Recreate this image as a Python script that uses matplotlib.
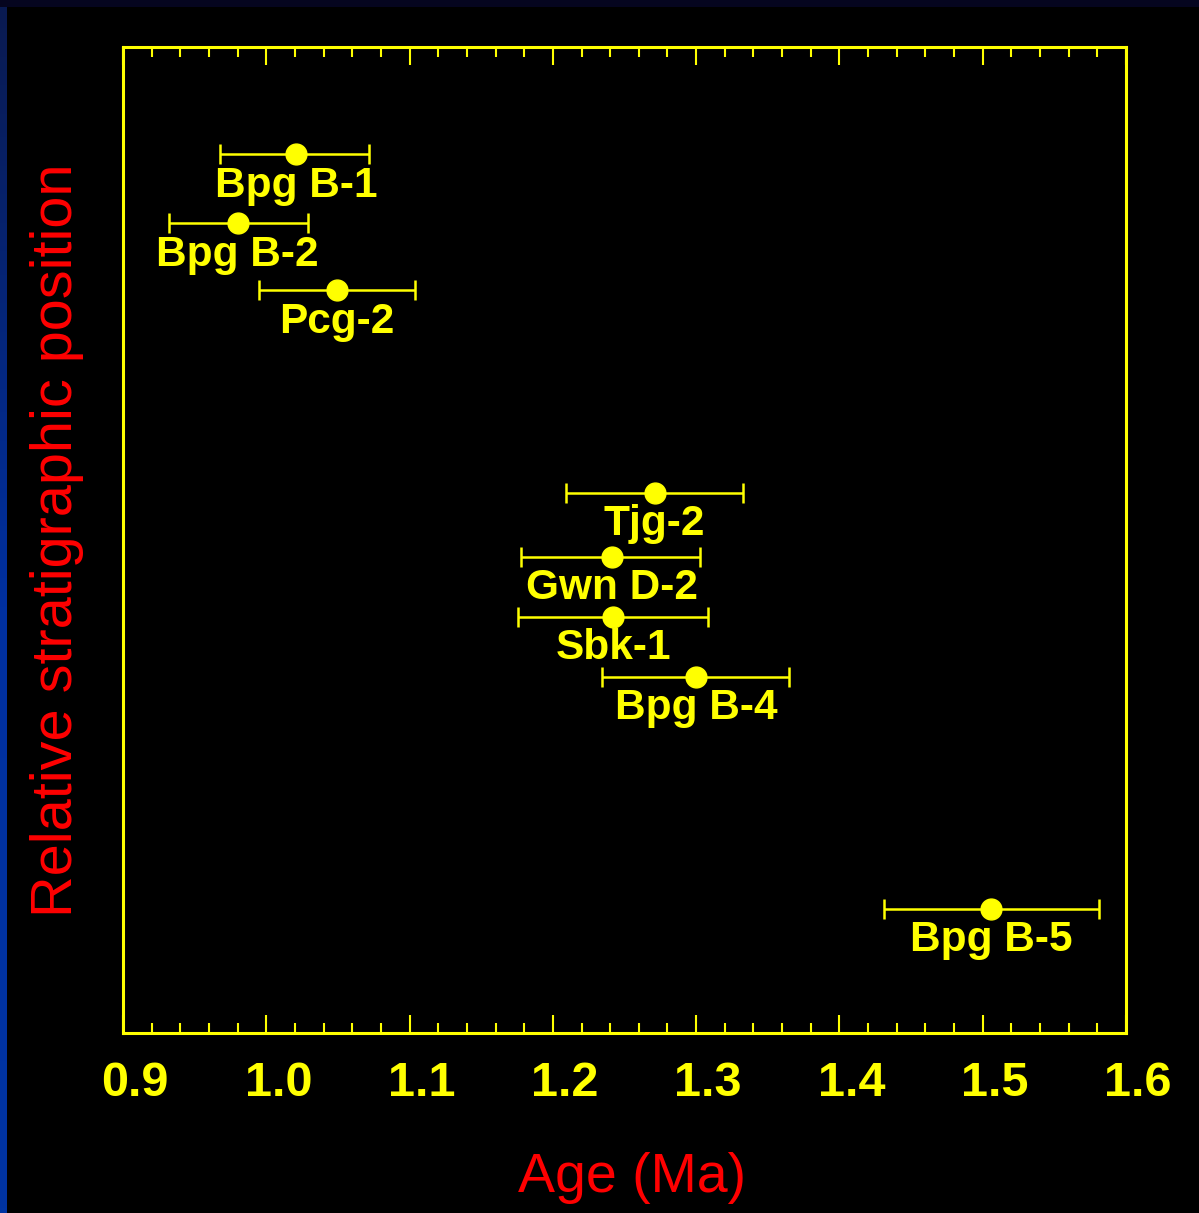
import numpy as np
import matplotlib
matplotlib.use("Agg")
import matplotlib.pyplot as plt
import matplotlib.transforms as mtransforms
from matplotlib.ticker import MultipleLocator

# sample ages (Ma) with error bars, and relative stratigraphic position
samples = ["Bpg B-1", "Bpg B-2", "Pcg-2", "Tjg-2", "Gwn D-2", "Sbk-1", "Bpg B-4", "Bpg B-5"]
age = [1.021, 0.980, 1.049, 1.271, 1.241, 1.242, 1.300, 1.506]
age_low = [0.968, 0.932, 0.995, 1.209, 1.178, 1.176, 1.234, 1.431]
age_high = [1.072, 1.029, 1.104, 1.333, 1.303, 1.308, 1.365, 1.581]
position = [8.91, 8.21, 7.53, 5.48, 4.83, 4.22, 3.61, 1.26]

xticks = [0.9, 1.0, 1.1, 1.2, 1.3, 1.4, 1.5, 1.6]
xtick_labels = ["0.9", "1.0", "1.1", "1.2", "1.3", "1.4", "1.5", "1.6"]

yellow = "#ffff00"
red = "#ff0000"
plt.rcParams["font.family"] = ["Liberation Sans", "DejaVu Sans"]

fig = plt.figure(figsize=(11.99, 12.13), dpi=100, facecolor="black")

# blue border strips (left gradient, dark top)
strip = fig.add_axes([0, 0, 7 / 1199, 1])
grad = np.linspace(0, 1, 256).reshape(-1, 1)
cm = matplotlib.colors.LinearSegmentedColormap.from_list("b", ["#0034a2", "#0030a0", "#0a1a50"])
strip.imshow(grad, aspect="auto", cmap=cm, origin="lower")
strip.axis("off")
top = fig.add_axes([0, 1 - 7 / 1213, 1, 7 / 1213])
top.set_facecolor("#05051f")
top.set_xticks([])
top.set_yticks([])
for s in top.spines.values():
    s.set_visible(False)

ax = fig.add_axes([0.1026, 0.1484, 0.8365, 0.8129])
ax.set_facecolor("black")

xerr = [np.array(age) - np.array(age_low), np.array(age_high) - np.array(age)]
ax.errorbar(age, position, xerr=xerr, fmt="o", color=yellow, ecolor=yellow,
            markersize=15, elinewidth=1.8, capsize=7, capthick=1.8)

for name, a, p in zip(samples, age, position):
    ax.annotate(name, (a, p), xytext=(0, -8), textcoords="offset points",
                ha="center", va="top", color=yellow, fontsize=30.5, fontweight="bold")

ax.set_xlim(0.9, 1.6)
ax.set_ylim(0, 10)
ax.set_xticks(xticks)
ax.set_xticklabels(xtick_labels, fontweight="bold")
ax.xaxis.set_minor_locator(MultipleLocator(0.02))
ax.set_yticks([])
ax.tick_params(axis="x", which="both", direction="in", top=True, color=yellow,
               width=1.5, labelcolor=yellow, labelsize=35, pad=20)
ax.tick_params(axis="x", which="major", length=13)
ax.tick_params(axis="x", which="minor", length=7)
offset = mtransforms.ScaledTranslation(0.12, 0, fig.dpi_scale_trans)
for lab in ax.get_xticklabels():
    lab.set_transform(lab.get_transform() + offset)

for s in ax.spines.values():
    s.set_color(yellow)
    s.set_linewidth(2.2)

ax.set_xlabel("Age (Ma)", color=red, fontsize=40, labelpad=33)
ax.xaxis.label.set_x(0.508)
ax.set_ylabel("Relative stratigraphic position", color=red, fontsize=41.5, labelpad=28)

fig.savefig("out.png", dpi=100, facecolor="black")
